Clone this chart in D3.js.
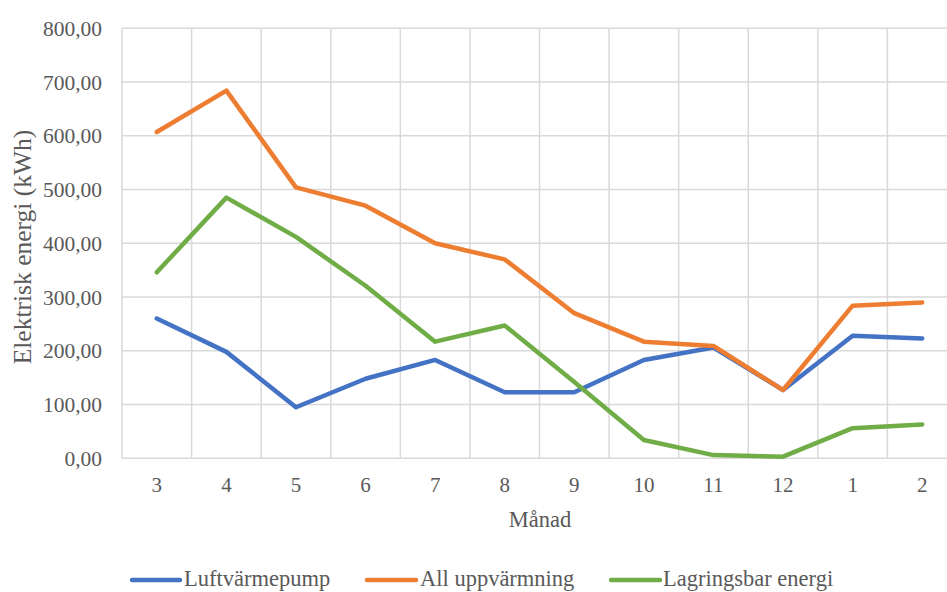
<!DOCTYPE html>
<html>
<head>
<meta charset="utf-8">
<script src="https://cdn.jsdelivr.net/npm/d3@7"></script>
<style>
  html, body { margin: 0; padding: 0; background: #fff; overflow: hidden; }
  svg { display: block; }
  text { font-family: "Liberation Serif", "Times New Roman", serif; fill: #595959; }
</style>
</head>
<body>
<svg id="chart" width="947" height="592"></svg>
<script>
// Månader (mars till februari)
const months = ["3", "4", "5", "6", "7", "8", "9", "10", "11", "12", "1", "2"];

// Elektrisk energi per månad (kWh)
const luftvarmepump = [260, 198, 95, 148, 183, 123, 123, 183, 206, 127, 228, 223];
const allUppvarmning = [607, 684, 504, 470, 400, 370, 270, 217, 209, 127, 284, 290];
const lagringsbar = [346, 485, 412, 321, 217, 247, 142, 34, 6, 3, 56, 63];

const yTicks = [0, 100, 200, 300, 400, 500, 600, 700, 800];

const seriesNames = ["Luftvärmepump", "All uppvärmning", "Lagringsbar energi"];
const seriesColors = ["#4472C4", "#ED7D31", "#70AD47"];
const seriesValues = [luftvarmepump, allUppvarmning, lagringsbar];

const svg = d3.select("#chart");
const plot = { left: 122, right: 957, top: 28.3, bottom: 458.3 };

const x = d3.scaleBand().domain(months).range([plot.left, plot.right]);
const y = d3.scaleLinear().domain([0, 800]).range([plot.bottom, plot.top]);

const fmt = v => d3.format(".2f")(v).replace(".", ",");

// Rutnät
const grid = svg.append("g").attr("stroke", "#d9d9d9").attr("stroke-width", 1.5);
grid.selectAll("line.h").data(yTicks).join("line")
  .attr("x1", plot.left).attr("x2", plot.right)
  .attr("y1", d => y(d)).attr("y2", d => y(d));
const bounds = months.map(m => x(m)).concat([x(months[months.length - 1]) + x.bandwidth()]);
grid.selectAll("line.v").data(bounds).join("line")
  .attr("x1", d => d).attr("x2", d => d)
  .attr("y1", plot.top).attr("y2", plot.bottom);

// Y-axelns etiketter
svg.append("g").selectAll("text").data(yTicks).join("text")
  .attr("x", 102).attr("y", d => y(d)).attr("dy", "0.35em")
  .attr("text-anchor", "end").attr("font-size", 21.5)
  .text(d => fmt(d));

// X-axelns etiketter
svg.append("g").selectAll("text").data(months).join("text")
  .attr("x", d => x(d) + x.bandwidth() / 2).attr("y", 485).attr("dy", "0.35em")
  .attr("text-anchor", "middle").attr("font-size", 21)
  .text(d => d);

// Axeltitlar
svg.append("text")
  .attr("transform", "translate(22,247) rotate(-90)")
  .attr("text-anchor", "middle").attr("dy", "0.35em").attr("font-size", 25.5)
  .text("Elektrisk energi (kWh)");
svg.append("text")
  .attr("x", 540).attr("y", 519).attr("dy", "0.35em")
  .attr("text-anchor", "middle").attr("font-size", 22.5)
  .text("Månad");

// Linjer
const line = d3.line()
  .x((d, i) => x(months[i]) + x.bandwidth() / 2)
  .y(d => y(d));
svg.append("g").selectAll("path").data(seriesValues).join("path")
  .attr("d", d => line(d))
  .attr("fill", "none")
  .attr("stroke", (d, i) => seriesColors[i])
  .attr("stroke-width", 4.5)
  .attr("stroke-linejoin", "round")
  .attr("stroke-linecap", "round");

// Teckenförklaring
const legendLine = [[132, 180], [367, 416], [611, 660]];
const legendText = [184, 420, 663];
const legend = svg.append("g").selectAll("g").data(seriesNames).join("g");
legend.append("line")
  .attr("x1", (d, i) => legendLine[i][0]).attr("x2", (d, i) => legendLine[i][1])
  .attr("y1", 580).attr("y2", 580)
  .attr("stroke", (d, i) => seriesColors[i]).attr("stroke-width", 4.5)
  .attr("stroke-linecap", "round");
legend.append("text")
  .attr("x", (d, i) => legendText[i]).attr("y", 586)
  .attr("font-size", 22.5)
  .text(d => d);
</script>
</body>
</html>
